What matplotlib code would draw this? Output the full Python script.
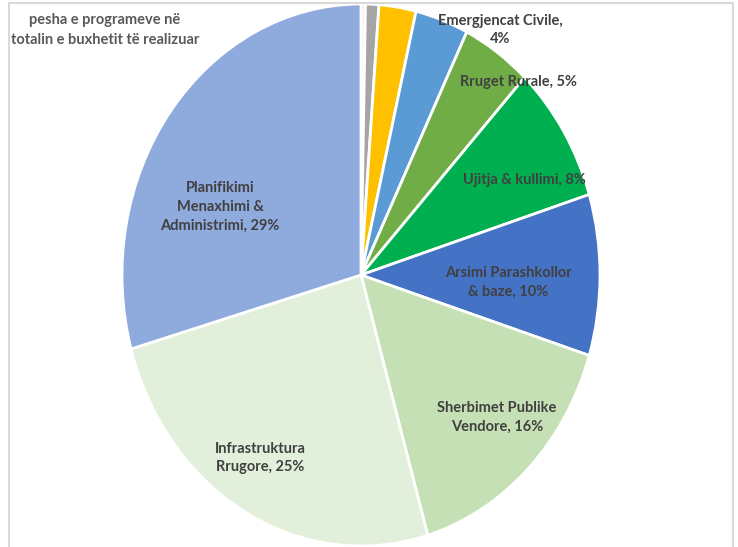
import matplotlib.pyplot as plt

# pie data, clockwise from 12 o'clock
programet = ['Tjeter 1', 'Tjeter 2', 'Tjeter 3', 'Emergjencat Civile', 'Rruget Rurale',
             'Ujitja & kullimi', 'Arsimi Parashkollor & baze', 'Sherbimet Publike Vendore',
             'Infrastruktura Rrugore', 'Planifikimi Menaxhimi & Administrimi']
pesha = [0.3, 0.9, 2.5, 3.6, 4.7, 8.2, 9.6, 15.7, 25.1, 29.4]
ngjyrat = ['#f3efe4', '#a5a5a5', '#ffc000', '#5b9bd5', '#70ad47',
           '#00b050', '#4472c4', '#c5e0b4', '#e2efda', '#8faadc']

# labels as placed in the original (pixel centres)
etiketat = ['Emergjencat Civile,\n4%', 'Rruget Rurale, 5%', 'Ujitja & kullimi, 8%',
            'Arsimi Parashkollor\n& baze, 10%', 'Sherbimet Publike\nVendore, 16%',
            'Infrastruktura\nRrugore, 25%', 'Planifikimi\nMenaxhimi &\nAdministrimi, 29%']
pozicionet = [(500, 30), (518, 82), (524, 180), (508, 282), (497, 417), (260, 458), (220, 207)]

W, H = 738, 547
fig = plt.figure(figsize=(W / 100, H / 100), dpi=100)

# pie axes, stretched like the original (taller than wide)
x0, x1, y0, y1 = 122, 600, 4, 546
axp = fig.add_axes([x0 / W, 1 - y1 / H, (x1 - x0) / W, (y1 - y0) / H])
axp.pie(pesha, colors=ngjyrat, startangle=90, counterclock=False, radius=1,
        wedgeprops=dict(edgecolor='white', linewidth=2))
axp.set_aspect('auto')
axp.set_xlim(-1, 1)
axp.set_ylim(-1, 1)
axp.axis('off')

# overlay in pixel coords for text and frame
ax = fig.add_axes([0, 0, 1, 1], zorder=5)
ax.set_xlim(0, W)
ax.set_ylim(H, 0)
ax.axis('off')
ax.patch.set_alpha(0)

fnt = ['Lato', 'DejaVu Sans']
for t, (x, y) in zip(etiketat, pozicionet):
    ax.text(x, y, t, ha='center', va='center', fontsize=10.5, fontweight='bold',
            color='#404040', family=fnt, linespacing=1.45)

ax.text(105, 30, 'pesha e programeve në\ntotalin e buxhetit të realizuar', ha='center',
        va='center', fontsize=10.5, fontweight='bold', color='#595959', family=fnt,
        linespacing=1.6)

# chart frame
ax.plot([9, 9, 733, 733], [H, 3, 3, H], color='#d9d9d9', linewidth=1.5)

plt.savefig('out.png', dpi=100)
